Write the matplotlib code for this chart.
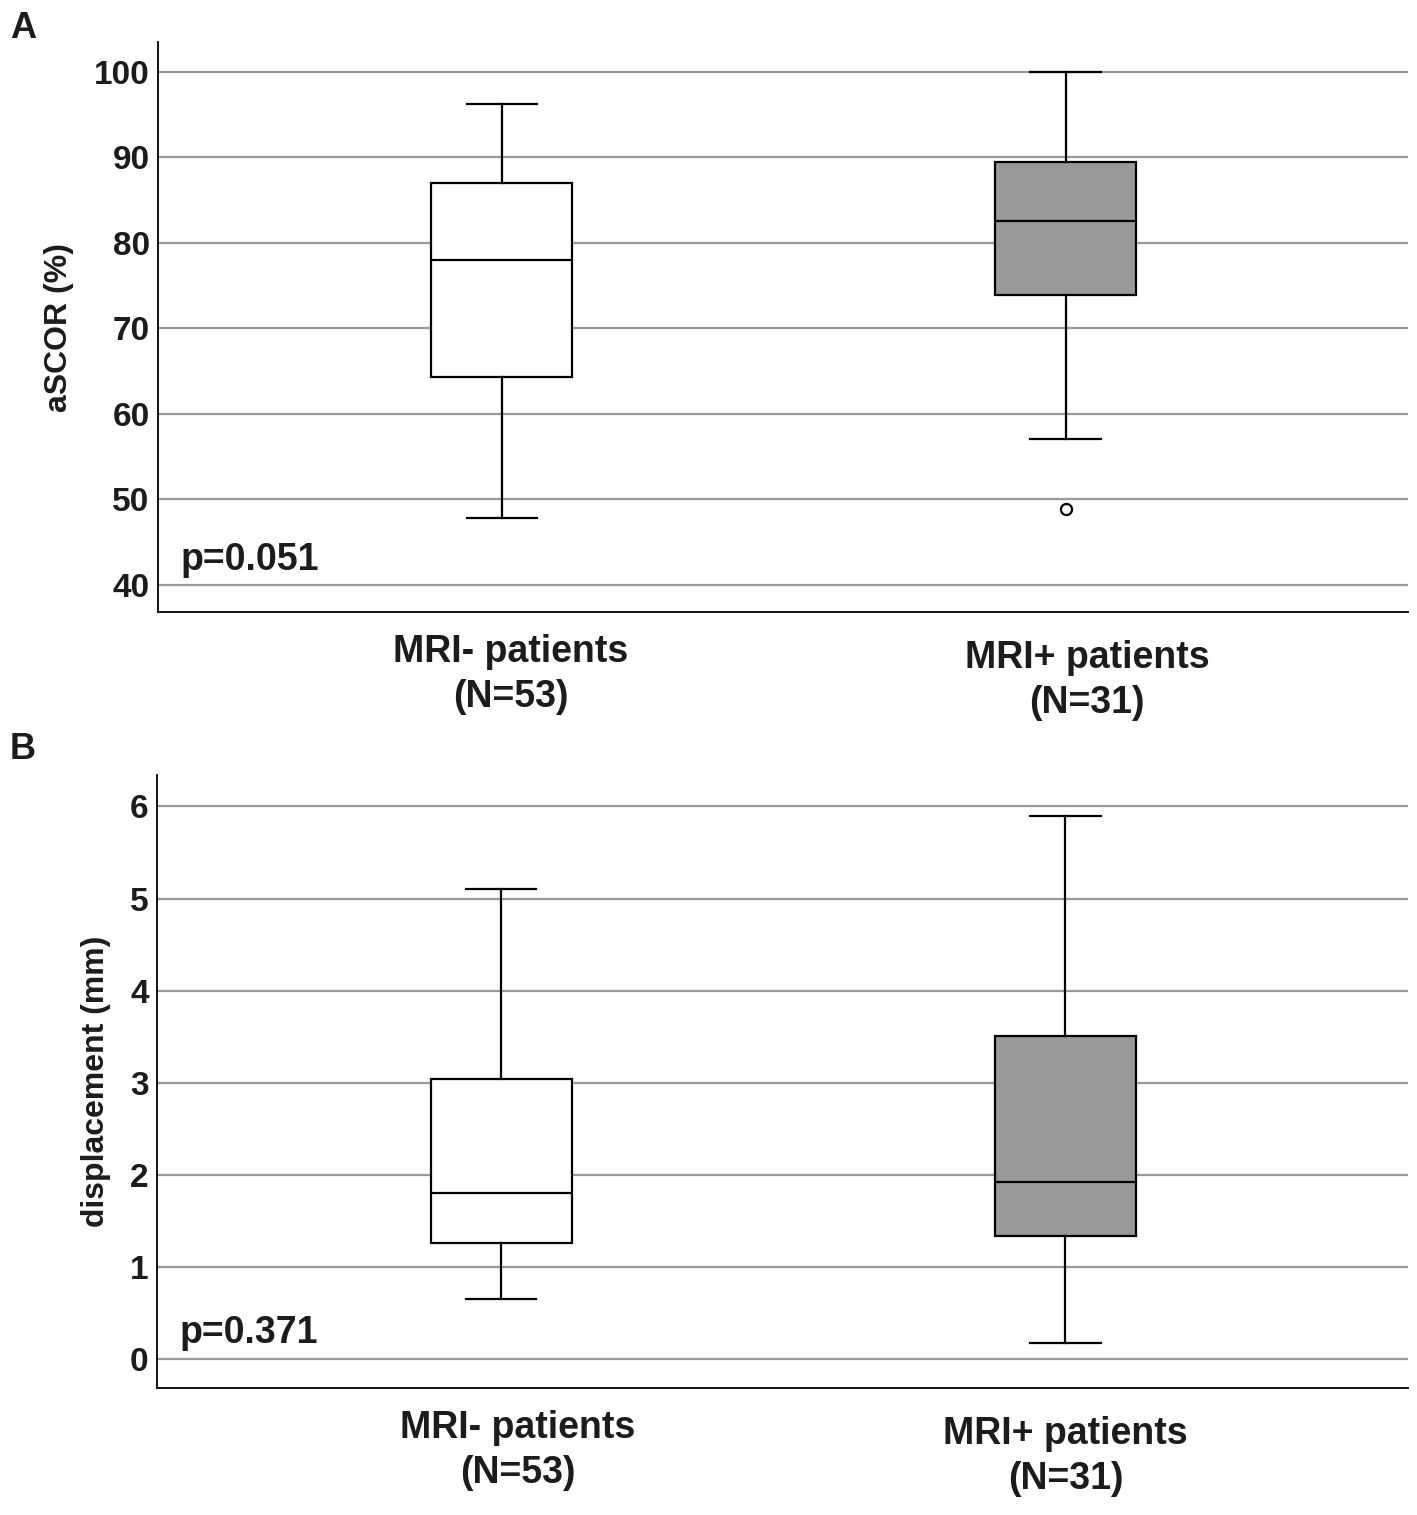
import matplotlib
matplotlib.use("Agg")
import matplotlib.pyplot as plt

plt.rcParams['font.family'] = ['Liberation Sans', 'DejaVu Sans']
plt.rcParams['font.weight'] = 'bold'

groups = ['MRI- patients\n(N=53)', 'MRI+ patients\n(N=31)']
fills = ['white', '#999999']

# panel A: aSCOR (%)
ascor_low = [47.8, 57.0]
ascor_q1 = [64.3, 73.9]
ascor_med = [78.0, 82.6]
ascor_q3 = [87.0, 89.5]
ascor_high = [96.3, 100.0]
ascor_out = [[], [48.8]]

# panel B: displacement (mm)
disp_low = [0.66, 0.18]
disp_q1 = [1.26, 1.34]
disp_med = [1.81, 1.93]
disp_q3 = [3.04, 3.51]
disp_high = [5.10, 5.90]
disp_out = [[], []]

TXT = '#1c1c1c'


def make_stats(low, q1, med, q3, high, out):
    stats = []
    for i in range(len(low)):
        stats.append(dict(whislo=low[i], q1=q1[i], med=med[i], q3=q3[i],
                          whishi=high[i], fliers=out[i]))
    return stats


def draw_panel(ax, stats, ylim, yticks, ylabel, ylabel_x, ptext, label_dx, label_dy):
    positions = [1, 2]
    parts = ax.bxp(stats, positions=positions, widths=0.25, capwidths=0.125,
                   showfliers=True, patch_artist=True,
                   boxprops=dict(edgecolor='black', linewidth=1.6),
                   medianprops=dict(color='black', linewidth=1.6),
                   whiskerprops=dict(color='black', linewidth=1.6),
                   capprops=dict(color='black', linewidth=1.6),
                   flierprops=dict(marker='o', markersize=8, markerfacecolor='white',
                                   markeredgecolor='black', markeredgewidth=1.6))
    for patch, c in zip(parts['boxes'], fills):
        patch.set_facecolor(c)
    for art in parts['boxes'] + parts['medians'] + parts['whiskers'] + parts['caps']:
        art.set_zorder(3)

    ax.set_xlim(0.39, 2.607)
    ax.set_ylim(*ylim)
    ax.set_yticks(yticks)
    ax.yaxis.grid(True, color='#9a9a9a', linewidth=1.6)
    ax.set_axisbelow(True)
    ax.set_xticks([])
    ax.tick_params(axis='y', length=0, pad=6, labelsize=24, labelcolor=TXT)
    for lab in ax.get_yticklabels():
        lab.set_fontweight('bold')
    for s in ['top', 'right']:
        ax.spines[s].set_visible(False)
    for s in ['left', 'bottom']:
        ax.spines[s].set_linewidth(1.3)
    ax.set_ylabel(ylabel, fontsize=23, fontweight='bold', color=TXT)
    ax.yaxis.set_label_coords(ylabel_x, 0.5)

    for pos, name, dx, dy in zip(positions, groups, label_dx, label_dy):
        ax.annotate(name, xy=(pos + dx, 0), xycoords=('data', 'axes fraction'),
                    xytext=(0, -16 - dy), textcoords='offset points',
                    ha='center', va='top', fontsize=27, fontweight='bold',
                    color=TXT, linespacing=1.32)
    ax.text(0.018, 0.074, ptext, transform=ax.transAxes, fontsize=27,
            fontweight='bold', color=TXT, ha='left', va='baseline')


fig = plt.figure(figsize=(14.17, 15.15), dpi=100)
axA = fig.add_axes([0.1115, 0.596, 0.8821, 0.3763])
axB = fig.add_axes([0.1108, 0.0838, 0.8828, 0.4046])

draw_panel(axA, make_stats(ascor_low, ascor_q1, ascor_med, ascor_q3, ascor_high, ascor_out),
           (36.8, 103.5), [40, 50, 60, 70, 80, 90, 100], 'aSCOR (%)', -0.067, 'p=0.051',
           [0.016, 0.038], [0, 4])
draw_panel(axB, make_stats(disp_low, disp_q1, disp_med, disp_q3, disp_high, disp_out),
           (-0.31, 6.34), [0, 1, 2, 3, 4, 5, 6], 'displacement (mm)', -0.037, 'p=0.371',
           [0.03, 0.0], [0, 4])

fig.text(0.007, 0.993, 'A', fontsize=26, fontweight='bold', color=TXT, ha='left', va='top')
fig.text(0.007, 0.517, 'B', fontsize=26, fontweight='bold', color=TXT, ha='left', va='top')

fig.savefig('out.png', dpi=100)
